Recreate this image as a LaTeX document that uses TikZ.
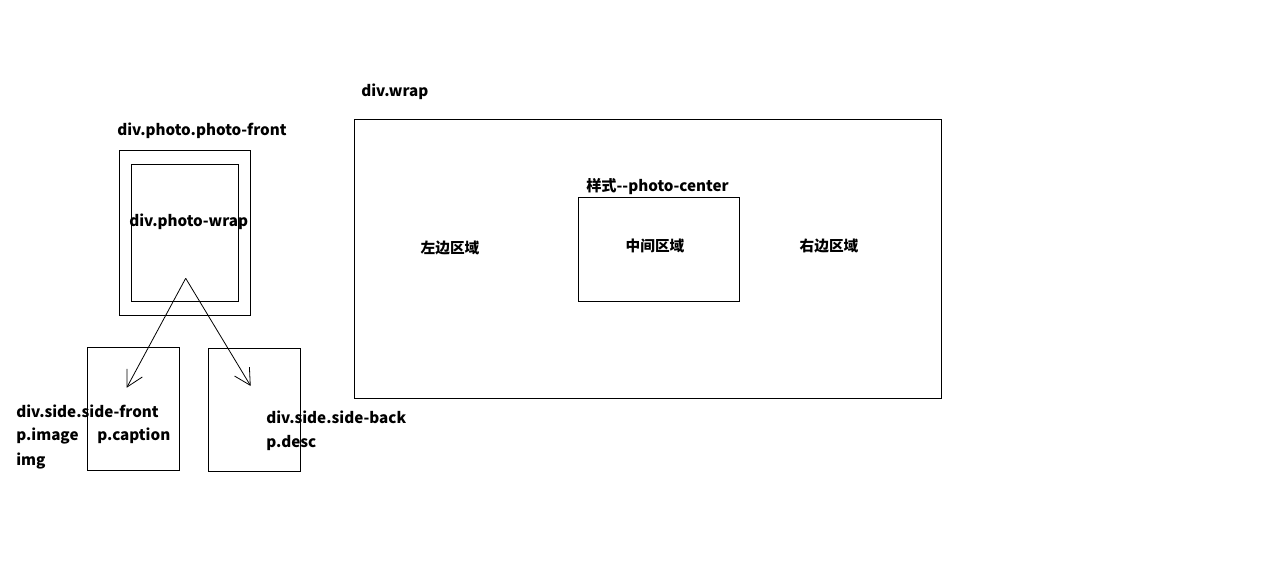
\documentclass[tikz,border=0pt]{standalone}
\usepackage{fontspec}
\setmainfont{Noto Sans CJK SC}
\usetikzlibrary{arrows.meta}
\begin{document}
\begin{tikzpicture}[x=0.75pt,y=-0.75pt,
  box/.style={draw,line width=0.75pt,inner sep=0pt,anchor=north west},
  lbl/.style={font=\fontsize{11.4}{13}\selectfont\bfseries,inner sep=0pt,anchor=west},
  clbl/.style={font=\fontsize{11}{13}\selectfont\bfseries,inner sep=0pt},
  arr/.style={line width=0.6pt,-{Straight Barb[length=12pt,width=13pt,line width=0.6pt]}}]
\useasboundingbox (0,0) rectangle (1271,568);
% photo boxes
\node[box,minimum width=131*0.75pt,minimum height=165*0.75pt] (front) at (119,150) {};
\node[box,minimum width=107*0.75pt,minimum height=137*0.75pt] (pwrap) at (131,164) {};
\node[box,minimum width=92*0.75pt,minimum height=123*0.75pt] (sfront) at (87,347) {};
\node[box,minimum width=92*0.75pt,minimum height=123*0.75pt] (sback) at (208,348) {};
% wrap
\node[box,minimum width=587*0.75pt,minimum height=279*0.75pt] (wrap) at (354,119) {};
\node[box,minimum width=161*0.75pt,minimum height=104*0.75pt] (center) at (578,197) {};
% labels
\node[lbl] (lfront) at (117,131) {div.photo.photo-front};
\node[lbl] (lpwrap) at (129,222) {div.photo-wrap};
\node[lbl] (lsfront) at (16,411) {div.side.side-front};
\node[lbl] (limage) at (16,436) {p.image};
\node[lbl] (lcaption) at (97,436) {p.caption};
\node[lbl] (limg) at (16,461) {img};
\node[lbl] (lsback) at (266,417) {div.side.side-back};
\node[lbl] (ldesc) at (266,443) {p.desc};
\node[lbl] (lwrap) at (361,92) {div.wrap};
\node[lbl] (lcenter) at (586,187) {样式{-}{-}photo-center};
\node[clbl] (left) at (450,248) {左边区域};
\node[clbl] (mid) at (655,246) {中间区域};
\node[clbl] (right) at (829,246) {右边区域};
% arrows
\coordinate (apex) at (185.7,278.3);
\coordinate (endL) at (126.7,387.7);
\coordinate (endR) at (250.7,386);
\draw[arr] (apex) -- (endL);
\draw[arr] (apex) -- (endR);
\end{tikzpicture}
\end{document}
